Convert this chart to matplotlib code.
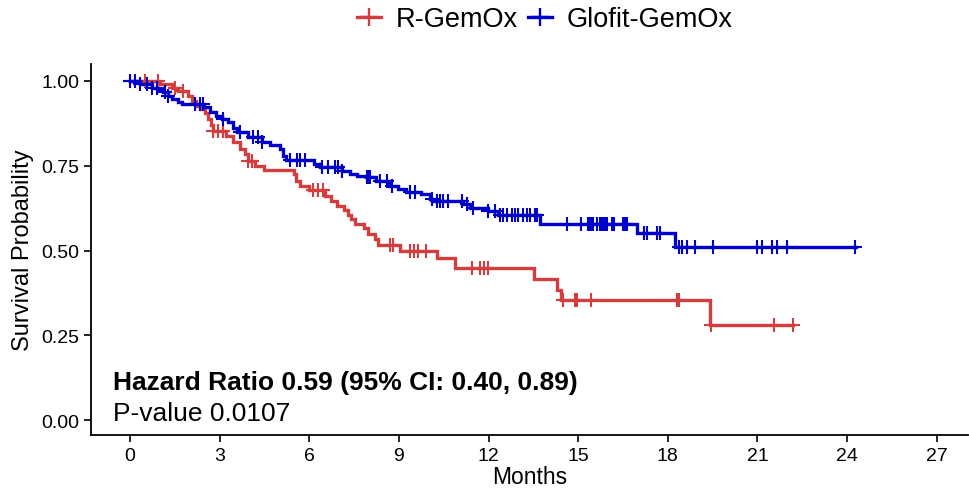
import numpy as np
import matplotlib
matplotlib.use("Agg")
import matplotlib.pyplot as plt
from matplotlib.lines import Line2D

plt.rcParams['font.family'] = ['Liberation Sans', 'DejaVu Sans']

# ---- data ----
groups = ["R-GemOx", "Glofit-GemOx"]
colors = ["#D43D3D", "#0000CC"]

red_times = [0, 1.0, 1.4, 1.6, 1.95, 2.07, 2.2, 2.35, 2.5, 2.6, 2.7, 2.78, 3.2, 3.45, 3.68,
             3.85, 3.95, 4.2, 4.48, 5.49, 5.55, 5.69, 5.99, 6.52, 6.72, 6.93, 7.16, 7.29,
             7.39, 7.53, 7.83, 7.96, 8.2, 8.3, 9.03, 10.27, 10.87, 13.52, 14.29, 14.42, 19.4]
red_surv = [1.0, 0.99, 0.98, 0.97, 0.957, 0.94, 0.926, 0.917, 0.905, 0.888, 0.87, 0.853,
            0.838, 0.82, 0.80, 0.785, 0.765, 0.75, 0.737, 0.726, 0.705, 0.69, 0.678, 0.66,
            0.646, 0.63, 0.62, 0.605, 0.593, 0.578, 0.565, 0.55, 0.534, 0.515, 0.50, 0.477,
            0.448, 0.416, 0.383, 0.353, 0.281]
red_end = 22.18
red_censor = [0, 0.5, 0.94, 1.5, 1.77, 2.78, 2.94, 3.11, 3.95, 4.08, 6.12, 6.29, 6.46,
              8.7, 8.8, 9.37, 9.5, 9.64, 9.9, 11.44, 11.71, 11.84, 11.98, 14.49, 14.89,
              14.95, 15.42, 18.3, 18.37, 19.45, 21.55, 22.18]

blue_times = [0, 0.33, 0.74, 0.94, 1.1, 1.27, 1.4, 1.6, 1.74, 2.48, 2.68, 2.88, 3.08, 3.28,
              3.45, 3.58, 3.95, 4.42, 4.68, 5.02, 5.12, 5.22, 6.16, 6.36, 7.09, 7.36, 7.59,
              7.9, 8.23, 8.67, 8.97, 9.23, 9.74, 10.04, 10.17, 11.14, 11.38, 11.98, 12.31,
              13.72, 16.96, 18.23]
blue_surv = [1.0, 0.99, 0.98, 0.976, 0.967, 0.955, 0.947, 0.938, 0.932, 0.923, 0.91, 0.897,
             0.888, 0.88, 0.86, 0.85, 0.835, 0.82, 0.81, 0.80, 0.78, 0.768, 0.755, 0.746,
             0.734, 0.726, 0.72, 0.717, 0.706, 0.69, 0.68, 0.672, 0.666, 0.652, 0.645,
             0.637, 0.625, 0.617, 0.604, 0.578, 0.551, 0.51]
blue_end = 24.3
blue_censor = [0, 0.17, 0.33, 0.57, 0.74, 0.9, 1.17, 1.27, 2.17, 2.34, 2.44, 3.11, 3.68,
               4.12, 4.28, 4.42, 5.35, 5.59, 5.69, 5.85, 6.42, 6.62, 6.86, 6.96, 7.09,
               7.93, 7.96, 8.03, 8.36, 8.6, 8.76, 9.37, 9.53, 10.1, 10.27, 10.37, 10.47,
               10.64, 11.11, 11.27, 11.48, 11.98, 12.21, 12.38, 12.48, 12.61, 12.78, 12.88,
               12.98, 13.15, 13.28, 13.38, 13.55, 13.62, 14.62, 15.09, 15.32, 15.39, 15.46,
               15.49, 15.62, 15.72, 15.79, 15.82, 15.89, 15.96, 16.13, 16.19, 16.49, 16.56,
               16.63, 17.2, 17.3, 17.63, 17.73, 18.37, 18.47, 18.63, 18.9, 19.5, 20.98,
               21.14, 21.48, 21.65, 21.98, 24.25]

x_ticks = [0, 3, 6, 9, 12, 15, 18, 21, 24, 27]
y_ticks = [0.0, 0.25, 0.5, 0.75, 1.0]
y_ticklabels = ["0.00", "0.25", "0.50", "0.75", "1.00"]
hr_text = "Hazard Ratio 0.59 (95% CI: 0.40, 0.89)"
p_text = "P-value 0.0107"

# ---- figure ----
fig = plt.figure(figsize=(9.7, 4.89), dpi=100)
ax = fig.add_axes([0.0938, 0.1084, 0.904, 0.7586])

series = [(red_times, red_surv, red_end, red_censor),
          (blue_times, blue_surv, blue_end, blue_censor)]
handles = []
for (t, s, end, cens), col, name in zip(series, colors, groups):
    tt = list(t) + [end]
    ss = list(s) + [s[-1]]
    ax.step(tt, ss, where='post', color=col, lw=2.4, solid_joinstyle='miter')
    idx = np.searchsorted(np.array(t), np.array(cens), side='right') - 1
    cy = np.array(s)[idx]
    ax.plot(cens, cy, linestyle='none', marker='+', color=col, ms=10, mew=1.5)
    handles.append(Line2D([0], [0], color=col, lw=2.4, marker='+', ms=13, mew=1.7))

ax.set_xlim(-1.305, 28.04)
ax.set_ylim(-0.044, 1.05)
ax.set_xticks(x_ticks)
ax.set_xticklabels([str(v) for v in x_ticks])
ax.set_yticks(y_ticks)
ax.set_yticklabels(y_ticklabels)
for sp in ['top', 'right']:
    ax.spines[sp].set_visible(False)
for sp in ['left', 'bottom']:
    ax.spines[sp].set_linewidth(1.3)
ax.tick_params(axis='both', direction='out', length=5, width=1.2, labelsize=14,
               colors='black', pad=3.5)
ax.set_xlabel("Months", fontsize=16.5, labelpad=1)
ax.set_ylabel("Survival Probability", fontsize=17, labelpad=5)

ax.text(-0.57, 0.112, hr_text, fontsize=19, fontweight='bold', va='center', ha='left')
ax.text(-0.57, 0.022, p_text, fontsize=19, va='center', ha='left')

fig.legend(handles, groups, loc='center', bbox_to_anchor=(545 / 970, 1 - 20 / 489),
           ncol=2, frameon=False, fontsize=19.5, handlelength=0.9, handletextpad=0.55,
           columnspacing=0.35, borderaxespad=0)

fig.savefig("out.png", dpi=100)
